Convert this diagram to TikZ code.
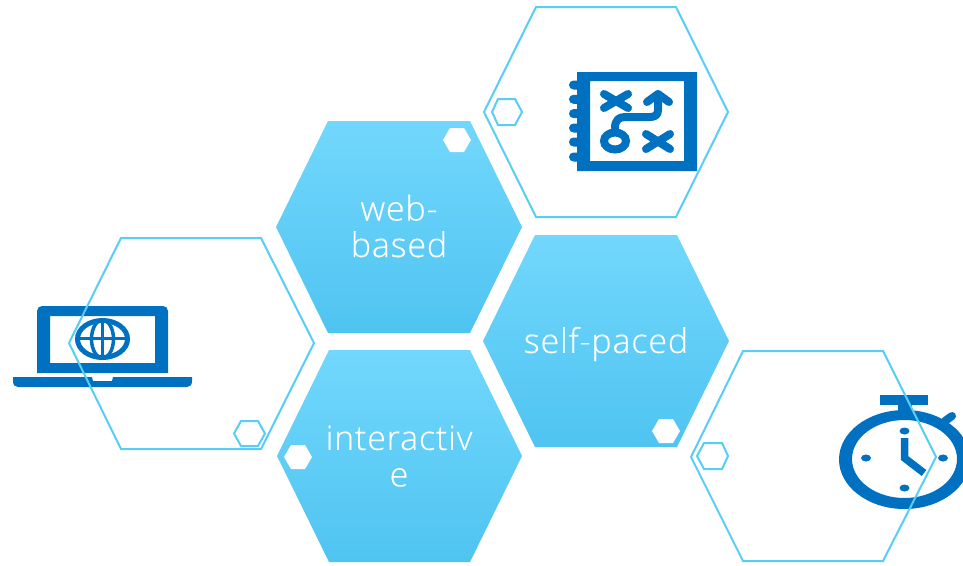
\documentclass[tikz,border=0pt]{standalone}
\usepackage{fontspec}
\setmainfont{Open Sans Light}[LetterSpace=2.5,FakeBold=0.35]
\definecolor{hexline}{HTML}{58CDF5}
\definecolor{hextop}{HTML}{72D7FC}
\definecolor{hexbot}{HTML}{4FC4F1}
\definecolor{iconblue}{HTML}{0070C0}
\tikzset{
  outlinehex/.style={draw=hexline,line width=2pt,line join=miter},
  smallhex/.style={draw=hexline,line width=2pt},
  whitehex/.style={fill=white},
  solidhex/.style={top color=hextop,bottom color=hexbot,draw=none},
  hexlabel/.style={text=white,font=\fontsize{34}{36.5}\selectfont,align=center,inner sep=0pt},
  iconfill/.style={fill=iconblue,draw=none},
  iconline/.style={draw=iconblue,line cap=round},
}
\begin{document}
\begin{tikzpicture}[x=1pt,y=-1pt]
\useasboundingbox (0,0) rectangle (963,565);
\fill[white] (0,0) rectangle (963,565);
% solid hexagons
\path[solidhex] (328,121)--(470,121)--(522,227)--(470,333)--(328,333)--(276,227)--cycle;
\path[solidhex] (535,235)--(677,235)--(729,341)--(677,447)--(535,447)--(483,341)--cycle;
\path[solidhex] (329,350)--(470,350)--(522,456)--(470,562)--(329,562)--(277,456)--cycle;
\node[hexlabel] (web) at (399,226) {web-\\based};
\node[hexlabel] (self) at (606,344) {self-paced};
\node[hexlabel] (inter) at (399,456) {interactiv\\e};
% small white hexagons
\path[whitehex] (450,128)--(464,128)--(471,140)--(464,152)--(450,152)--(443,140)--cycle;
\path[whitehex] (659,419)--(673,419)--(680,431)--(673,443)--(659,443)--(652,431)--cycle;
\path[whitehex] (291,445)--(305,445)--(312,457)--(305,469)--(291,469)--(284,457)--cycle;
% laptop icon
\fill[iconfill,even odd rule]
  (37,311) arc[start angle=180,end angle=270,radius=5] -- (163,306) arc[start angle=270,end angle=360,radius=5] -- (168,373) -- (37,373) -- cycle
  (50,316) rectangle (155,363);
\fill[iconfill] (13,377)--(92,377)--(93,381)--(112,381)--(113,377)--(192,377)--(192,381) .. controls (192,385) and (190,387) .. (187,387) -- (18,387) .. controls (15,387) and (13,385) .. (13,381) -- cycle;
\draw[iconblue,line width=5pt] (102.5,339) ellipse[x radius=25,y radius=18.5];
\draw[iconblue,line width=3.5pt] (102.5,320)--(102.5,359) (77,338.5)--(128,338.5);
\draw[iconblue,line width=3.5pt] (102.5,339) ellipse[x radius=11,y radius=19];
% plan icon
\fill[iconfill,even odd rule] (577,72) rectangle (697,171) (590,81) rectangle (684,161);
\foreach \yy in {85,99.3,113.6,128,142,157}{
  \fill[iconfill] (577,\yy-4.5) -- (573.5,\yy-4.5) arc[start angle=270,end angle=90,radius=4.5] -- (577,\yy+4.5) -- cycle;
}
\draw[iconline,line width=8pt] (604,94)--(628,108) (628,94)--(604,108);
\draw[iconline,line width=8pt] (646,134)--(670,149) (670,134)--(646,149);
\draw[iconline,line width=8pt,line join=round] (615,128) .. controls (615,120) and (619,117) .. (625,117) -- (650,117) .. controls (655,117) and (658,115) .. (658,110) -- (658,95);
\draw[iconline,line width=8pt,line join=round] (647,102)--(658,94)--(669,102);
\draw[iconblue,line width=8pt] (615,141) ellipse[x radius=11,y radius=8.5];
% stopwatch icon
\fill[iconfill] (880,395) rectangle (928,405);
\fill[iconfill] (898,405) rectangle (912,414);
\draw[iconblue,line width=8pt,line cap=round] (945,421)--(952,416);
\fill[iconfill,even odd rule] (904.5,459.5) ellipse[x radius=65.5,y radius=49.5] (904.5,459) ellipse[x radius=52.5,y radius=39];
\fill[iconfill] (904.5,431) ellipse[x radius=5,y radius=3.5];
\fill[iconfill] (904.5,488) ellipse[x radius=5,y radius=3.5];
\fill[iconfill] (866,458) ellipse[x radius=5,y radius=3.5];
\fill[iconfill] (943,458) ellipse[x radius=5,y radius=3.5];
\draw[iconblue,line width=7.5pt,line join=miter] (904.5,438)--(904.5,458)--(924,473);
% outline hexagons
\draw[outlinehex] (536,7)--(676,7)--(728,112)--(676,217)--(536,217)--(484,112)--cycle;
\draw[outlinehex] (121,238)--(261,238)--(314,343)--(261,449)--(121,449)--(69,343)--cycle;
\draw[outlinehex] (743,351)--(883,351)--(936,457)--(883,561)--(743,561)--(691,457)--cycle;
% small outline hexagons
\draw[smallhex] (498,99)--(515,99)--(522,112)--(515,125)--(498,125)--(492,112)--cycle;
\draw[smallhex] (241,421)--(258,421)--(265,433.5)--(258,446)--(241,446)--(234,433.5)--cycle;
\draw[smallhex] (704,443)--(722,443)--(728,456)--(722,469)--(704,469)--(697,456)--cycle;
\end{tikzpicture}
\end{document}
